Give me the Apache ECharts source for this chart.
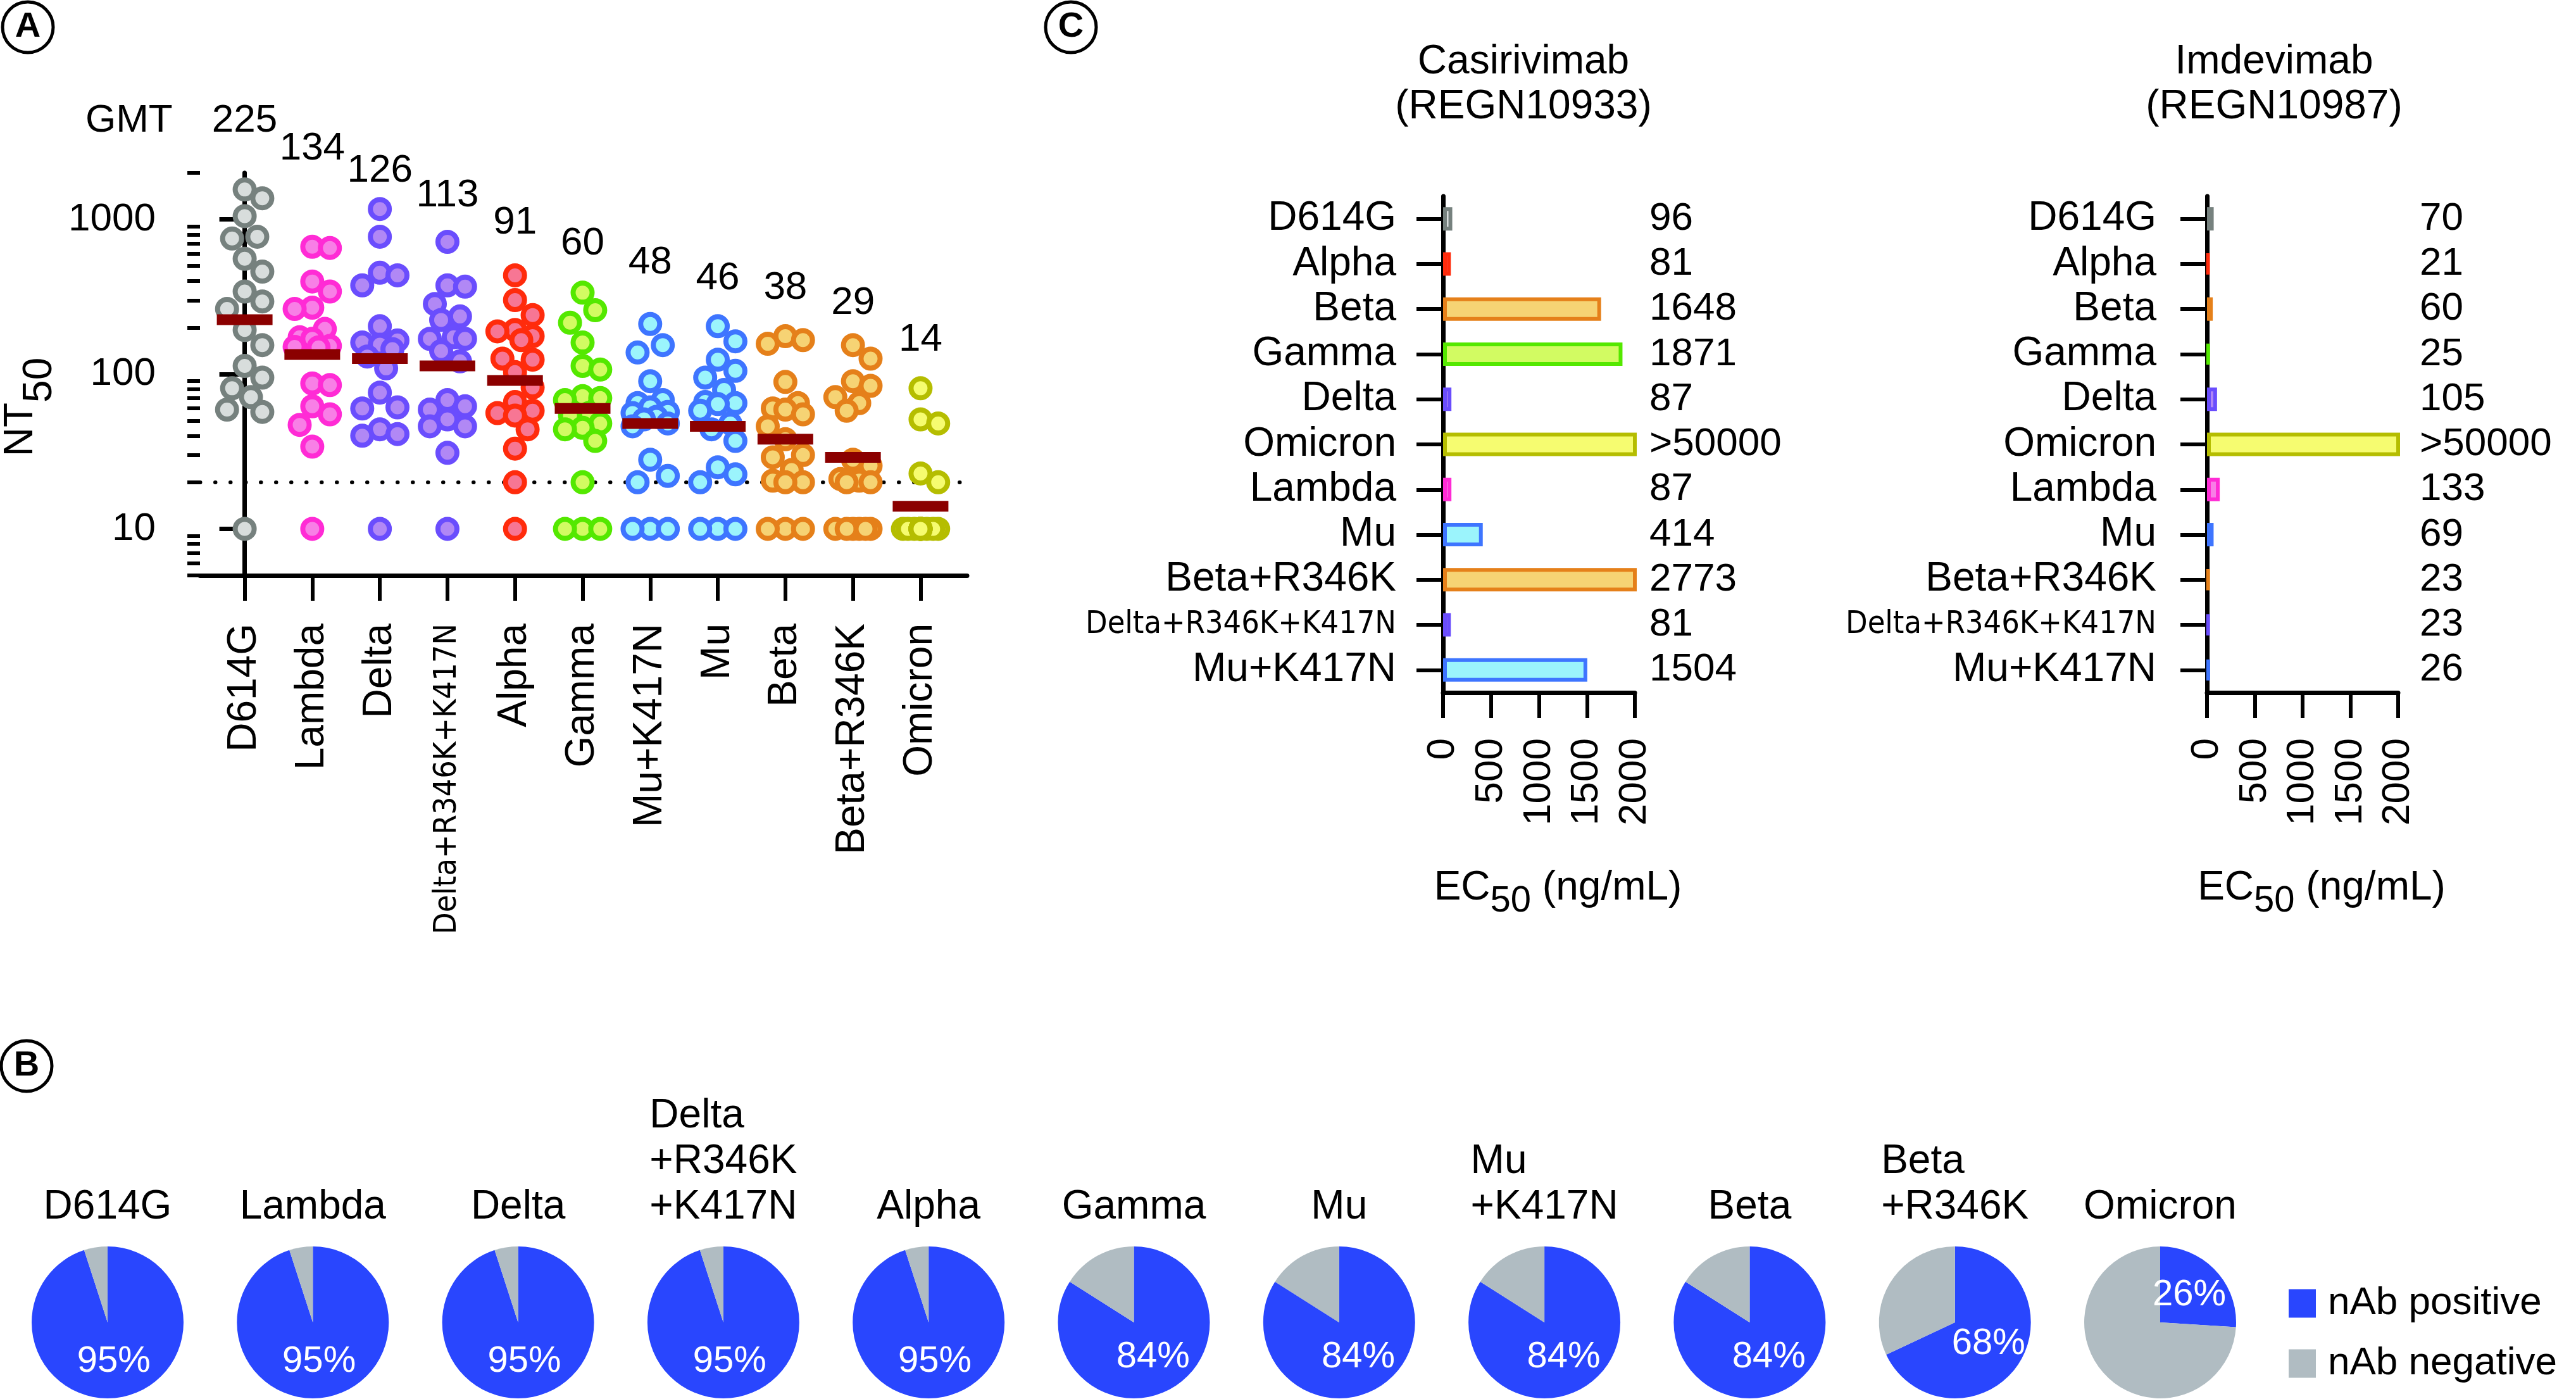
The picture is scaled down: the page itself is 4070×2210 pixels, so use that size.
<!DOCTYPE html>
<html><head><meta charset="utf-8">
<script src="https://cdn.jsdelivr.net/npm/echarts@6/dist/echarts.min.js"></script>
<style>html,body{margin:0;padding:0;background:#fff}#c{width:4070px;height:2210px}</style>
</head><body><div id="c"></div>
<script>
// ================= DATA =================
// Panel A: NT50 per participant (19 each), order on x axis
const variantsA = ['D614G','Lambda','Delta','Delta+R346K+K417N','Alpha','Gamma','Mu+K417N','Mu','Beta','Beta+R346K','Omicron'];
const gmtA = [225,134,126,113,91,60,48,46,38,29,14];
const nt50_D614G   = [1560,1370,1050,773,752,557,460,342,295,264,193,154,113,95,81,71,59,57,10];
const nt50_Lambda  = [666,654,397,342,269,264,196,173,169,152,150,149,87,85,62,55,47,34,10];
const nt50_Delta   = [1167,773,452,435,375,204,165,160,155,145,130,109,76,61,60,44,41,40,10];
const nt50_DeltaRK = [716,375,368,284,236,224,173,169,169,141,121,68,62,59,51,46,46,31,10];
const nt50_Alpha   = [435,301,241,193,189,176,166,126,124,103,82,66,58,56,54,44,33,20,10];
const nt50_Gamma   = [336,259,215,160,113,107,72,70,68,56,54,48,45,44,37,20,10,10,10];
const nt50_MuK     = [211,154,138,90,68,65,61,57,56,53,51,48,46,28,22,20,10,10,10];
const nt50_Mu      = [204,163,124,105,95,79,66,65,64,58,48,44,37,25,22.5,20,10,10,10];
const nt50_Beta    = [176,166,157,89,65,60,59,55,46,38,30,29,24,20.5,20,20,10,10,10];
const nt50_BetaR   = [154,126,90,84,71,65,58,28,25.6,21,20.5,20,20,10,10,10,10,10,10];
const nt50_Omicron = [81,51,48,22.8,20,10,10,10,10,10,10,10,10,10,10,10,10,10,10];
const nt50A = [nt50_D614G,nt50_Lambda,nt50_Delta,nt50_DeltaRK,nt50_Alpha,nt50_Gamma,nt50_MuK,nt50_Mu,nt50_Beta,nt50_BetaR,nt50_Omicron];
const detectionLimit = 20;
const yMajorTicks = [10,100,1000];
const yMinorTicks = [5,6,7,8,9,20,30,40,50,60,70,80,90,200,300,400,500,600,700,800,900,2000];

// Panel B: % nAb positive
const variantsB = ['D614G','Lambda','Delta','Delta+R346K+K417N','Alpha','Gamma','Mu','Mu+K417N','Beta','Beta+R346K','Omicron'];
const positivePctB = [95,95,95,95,95,84,84,84,84,68,26];

// Panel C: EC50 (ng/mL)
const variantsC = ['D614G','Alpha','Beta','Gamma','Delta','Omicron','Lambda','Mu','Beta+R346K','Delta+R346K+K417N','Mu+K417N'];
const ec50Casirivimab = [96,81,1648,1871,87,50000,87,414,2773,81,1504];
const ec50Imdevimab   = [70,21,60,25,105,50000,133,69,23,23,26];
const ec50Ticks = [0,500,1000,1500,2000];

// ================= STYLE =================
const FONT = 'Liberation Sans, Arial, Helvetica, sans-serif';
const NARROW = 'Liberation Sans Narrow, Arial Narrow, DejaVu Sans Condensed, sans-serif';
const colors = {
  'D614G': {stroke:'#76817e', fill:'#d8dddc'},
  'Lambda': {stroke:'#ff2bd5', fill:'#f87fe6'},
  'Delta': {stroke:'#6a4dfd', fill:'#b188f5'},
  'Delta+R346K+K417N': {stroke:'#6a4dfd', fill:'#b188f5'},
  'Alpha': {stroke:'#ff2b0c', fill:'#f77694'},
  'Gamma': {stroke:'#54e800', fill:'#d2fb62'},
  'Mu+K417N': {stroke:'#3e75ff', fill:'#9bf4fc'},
  'Mu': {stroke:'#3e75ff', fill:'#9bf4fc'},
  'Beta': {stroke:'#e5801a', fill:'#f6d374'},
  'Beta+R346K': {stroke:'#e5801a', fill:'#f6d374'},
  'Omicron': {stroke:'#b5bd00', fill:'#f6fc70'}
};
const POS = '#2946fe', NEG = '#b0bcc2', GMTC = '#8b0000';

// ---- layout of panel A ----
const gA = {left:309, top:273, width:1219, height:636};
const xMinA = -0.661, xMaxA = 10.689;
const yMinA = 5, yMaxA = 2000;
const pxPerX = gA.width / (xMaxA - xMinA);
const yPx = v => (Math.log10(v) - Math.log10(yMinA)) / (Math.log10(yMaxA) - Math.log10(yMinA)) * gA.height;

function swarm(values, ci) {
  const pts = values.map(v => ({v, y: yPx(v)}));
  const order = pts.slice().sort((a, b) => b.y - a.y);
  const placed = [];
  const cands = [0, 20, -20, 10, -10, 28, -28];
  order.forEach(p => {
    let best = 0, bestScore = -1;
    for (const c of cands) {
      let md = Infinity;
      for (const q of placed) { const d = Math.hypot(q.x - c, q.y - p.y); if (d < md) md = d; }
      if (md >= 34) { best = c; bestScore = Infinity; break; }
      if (md > bestScore) { bestScore = md; best = c; }
    }
    p.x = best; placed.push(p);
  });
  return pts.map(p => [ci + p.x / pxPerX, p.v]);
}

const narrowFmt = name => (name.split('+').length > 2 ? '{n|' + name + '}' : name);
const ecLabel = v => (v >= 50000 ? '>50000' : String(v));

// ================= OPTION =================
const series = [];
variantsA.forEach((name, i) => {
  series.push({
    type:'scatter', name, xAxisIndex:0, yAxisIndex:0, symbol:'circle', symbolSize:30, z:3,
    itemStyle:{color:colors[name].fill, borderColor:colors[name].stroke, borderWidth:8, opacity:1},
    data: swarm(nt50A[i], i), silent:true
  });
});
series.push({
  type:'scatter', name:'GMT', xAxisIndex:0, yAxisIndex:0, symbol:'rect', symbolSize:[88,17], z:6,
  itemStyle:{color:GMTC, opacity:1}, data: gmtA.map((g, i) => [i, g]), silent:true,
  markLine:{silent:true, symbol:'none', z:1, label:{show:false},
    lineStyle:{color:'#000', width:6, type:[0.5,23.5], cap:'round'},
    data:[{yAxis:detectionLimit}]}
});

// Panel B pies
const pieX0 = 170, pieDX = 324.3, pieY = 2089, pieR = 120;
variantsB.forEach((name, i) => {
  series.push({
    type:'pie', name, center:[pieX0 + i*pieDX, pieY], radius:pieR, startAngle:90, clockwise:true,
    silent:true, avoidLabelOverlap:false,
    itemStyle:{borderWidth:0},
    label:{show:true, position:'inside', color:'#fff', fontSize:58, fontFamily:FONT,
      formatter: p => (p.dataIndex === 0 ? p.value + '%' : '')},
    labelLine:{show:false},
    emphasis:{disabled:true},
    data:[{name:'nAb positive', value:positivePctB[i], itemStyle:{color:POS}},
          {name:'nAb negative', value:100 - positivePctB[i], itemStyle:{color:NEG}}]
  });
});

// Panel C bars
[ec50Casirivimab, ec50Imdevimab].forEach((vals, k) => {
  series.push({
    type:'bar', xAxisIndex:1 + k, yAxisIndex:2 + k, barWidth:37, silent:true,
    data: vals.map((v, i) => ({value:v, itemStyle:{color:colors[variantsC[i]].fill, borderColor:colors[variantsC[i]].stroke, borderWidth:6}}))
  });
});

const axisLine = {show:true, lineStyle:{color:'#000', width:7}};
const txt = {color:'#000', fontFamily:FONT};

const ecName = {
  a:{fontSize:64, lineHeight:82, verticalAlign:'top', color:'#000', fontFamily:FONT},
  b:{fontSize:58, lineHeight:58, verticalAlign:'bottom', color:'#000', fontFamily:FONT}
};

const xAxes = [
  {type:'value', gridIndex:0, min:xMinA, max:xMaxA, axisLine,
   axisTick:{show:true, length:40, lineStyle:{color:'#000', width:6}, customValues:variantsA.map((_, i) => i)},
   axisLabel:{show:true, customValues:variantsA.map((_, i) => i), rotate:90, margin:76, fontSize:64, ...txt,
     formatter: v => narrowFmt(variantsA[Math.round(v)]), rich:{n:{fontFamily:NARROW, fontSize:50, color:'#000'}}},
   splitLine:{show:false}},
];
[0, 1].forEach(k => {
  xAxes.push({type:'value', gridIndex:1 + k, min:0, max:2000, interval:500, axisLine,
    axisTick:{show:true, length:40, lineStyle:{color:'#000', width:6}},
    axisLabel:{show:true, rotate:90, margin:72, fontSize:62, ...txt, customValues:ec50Ticks, formatter: v => String(v)},
    splitLine:{show:false},
    name:'{a|EC}{b|50}{a| (ng/mL)}', nameLocation:'middle', nameGap:277,
    nameTextStyle:{rich:ecName, padding:[0,0,0,60]}});
});

const yAxes = [
  {type:'log', logBase:10, gridIndex:0, position:'left', min:yMinA, max:yMaxA, axisLine,
   axisTick:{show:true, length:40, lineStyle:{color:'#000', width:7}, customValues:yMajorTicks},
   axisLabel:{show:true, customValues:yMajorTicks, margin:70, fontSize:62, ...txt, formatter: v => String(Math.round(v))},
   splitLine:{show:false},
   name:'{a|NT}{b|50}', nameLocation:'middle', nameGap:221, nameRotate:90,
   nameTextStyle:{padding:[0,104,0,0], rich:{
     a:{fontSize:64, lineHeight:94, verticalAlign:'top', color:'#000', fontFamily:FONT},
     b:{fontSize:64, lineHeight:64, verticalAlign:'bottom', color:'#000', fontFamily:FONT}}}},
  {type:'log', logBase:10, gridIndex:0, position:'left', min:yMinA, max:yMaxA, axisLine:{show:false},
   axisTick:{show:true, length:20, lineStyle:{color:'#000', width:6}, customValues:yMinorTicks},
   axisLabel:{show:false}, splitLine:{show:false}}
];
[0, 1].forEach(k => {
  yAxes.push({type:'category', gridIndex:1 + k, position:'left', inverse:true, data:variantsC, axisLine,
    axisTick:{show:true, length:42, alignWithLabel:true, interval:0, lineStyle:{color:'#000', width:6}},
    axisLabel:{show:true, interval:0, margin:k ? 80 : 74, fontSize:64, ...txt, formatter: v => narrowFmt(v),
      rich:{n:{fontFamily:NARROW, fontSize:50, color:'#000'}}},
    splitLine:{show:false}});
});
[ec50Casirivimab, ec50Imdevimab].forEach((vals, k) => {
  yAxes.push({type:'category', gridIndex:1 + k, position:'right', inverse:true, data:variantsC,
    axisLine:{show:false}, axisTick:{show:false},
    axisLabel:{show:true, interval:0, margin:k ? 34 : 23, fontSize:62, ...txt, formatter:(v, i) => ecLabel(vals[i])},
    splitLine:{show:false}});
});

// titles
const titles = [];
const cv = document.createElement('canvas').getContext('2d');
cv.font = '64px Liberation Sans';
variantsB.forEach((name, i) => {
  const lines = name.split('+').map((s, j) => (j ? '+' + s : s));
  const cx = pieX0 + i*pieDX;
  const top = 1871 - (lines.length - 1) * 72;
  if (lines.length === 1) {
    titles.push({text:name, left:cx, top, textAlign:'center', padding:0, itemGap:0,
      textStyle:{fontSize:64, fontWeight:'normal', lineHeight:72, ...txt}});
  } else {
    const w = Math.max(...lines.map(l => cv.measureText(l).width));
    titles.push({text:lines.join('\n'), left:cx - w/2, top, textAlign:'left', padding:0, itemGap:0,
      textStyle:{fontSize:64, fontWeight:'normal', lineHeight:72, ...txt}});
  }
});
titles.push({text:'Casirivimab\n(REGN10933)', left:2407, top:63, textAlign:'center', padding:0,
  textStyle:{fontSize:64, fontWeight:'normal', lineHeight:71, ...txt}});
titles.push({text:'Imdevimab\n(REGN10987)', left:3593, top:63, textAlign:'center', padding:0,
  textStyle:{fontSize:64, fontWeight:'normal', lineHeight:71, ...txt}});

const option = {
  animation:false,
  backgroundColor:'#fff',
  title:titles,
  legend:{data:['nAb positive','nAb negative'], left:3616, top:2028, orient:'vertical', icon:'rect',
    itemWidth:43, itemHeight:45, itemGap:33, padding:0, selectedMode:false,
    textStyle:{fontSize:62, ...txt, padding:[0,0,0,14]}},
  grid:[
    {left:gA.left, top:gA.top, width:gA.width, height:gA.height, containLabel:false},
    {left:2280, top:310, width:303, height:784, containLabel:false},
    {left:3487, top:310, width:302, height:784, containLabel:false}
  ],
  xAxis:xAxes,
  yAxis:yAxes,
  series
};

const chart = echarts.init(document.getElementById('c'), null, {renderer:'canvas', width:4070, height:2210});
chart.setOption(option);

// annotations: panel letters, GMT values
const gmtBaseline = [209,253,288,327,370,403,433,458,473,497,555];
const graphics = [];
[['A',44,43],['B',42,1684],['C',1692,43]].forEach(([t, x, y]) => {
  graphics.push({type:'ellipse', shape:{cx:x, cy:y, rx:40, ry:40}, style:{fill:'#fff', stroke:'#000', lineWidth:5}, z:10});
  graphics.push({type:'text', x, y, style:{text:t, fontSize:56, fontWeight:'bold', fontFamily:FONT, fill:'#000', align:'center', verticalAlign:'middle'}, z:11});
});
graphics.push({type:'text', x:135, y:gmtBaseline[0] + 13, style:{text:'GMT', fontSize:62, fontFamily:FONT, fill:'#000', align:'left', verticalAlign:'bottom'}});
gmtA.forEach((g, i) => {
  const x = chart.convertToPixel({xAxisIndex:0}, i);
  graphics.push({type:'text', x, y:gmtBaseline[i] + 13, style:{text:String(g), fontSize:62, fontFamily:FONT, fill:'#000', align:'center', verticalAlign:'bottom'}});
});
chart.setOption({graphic:graphics});
</script></body></html>
